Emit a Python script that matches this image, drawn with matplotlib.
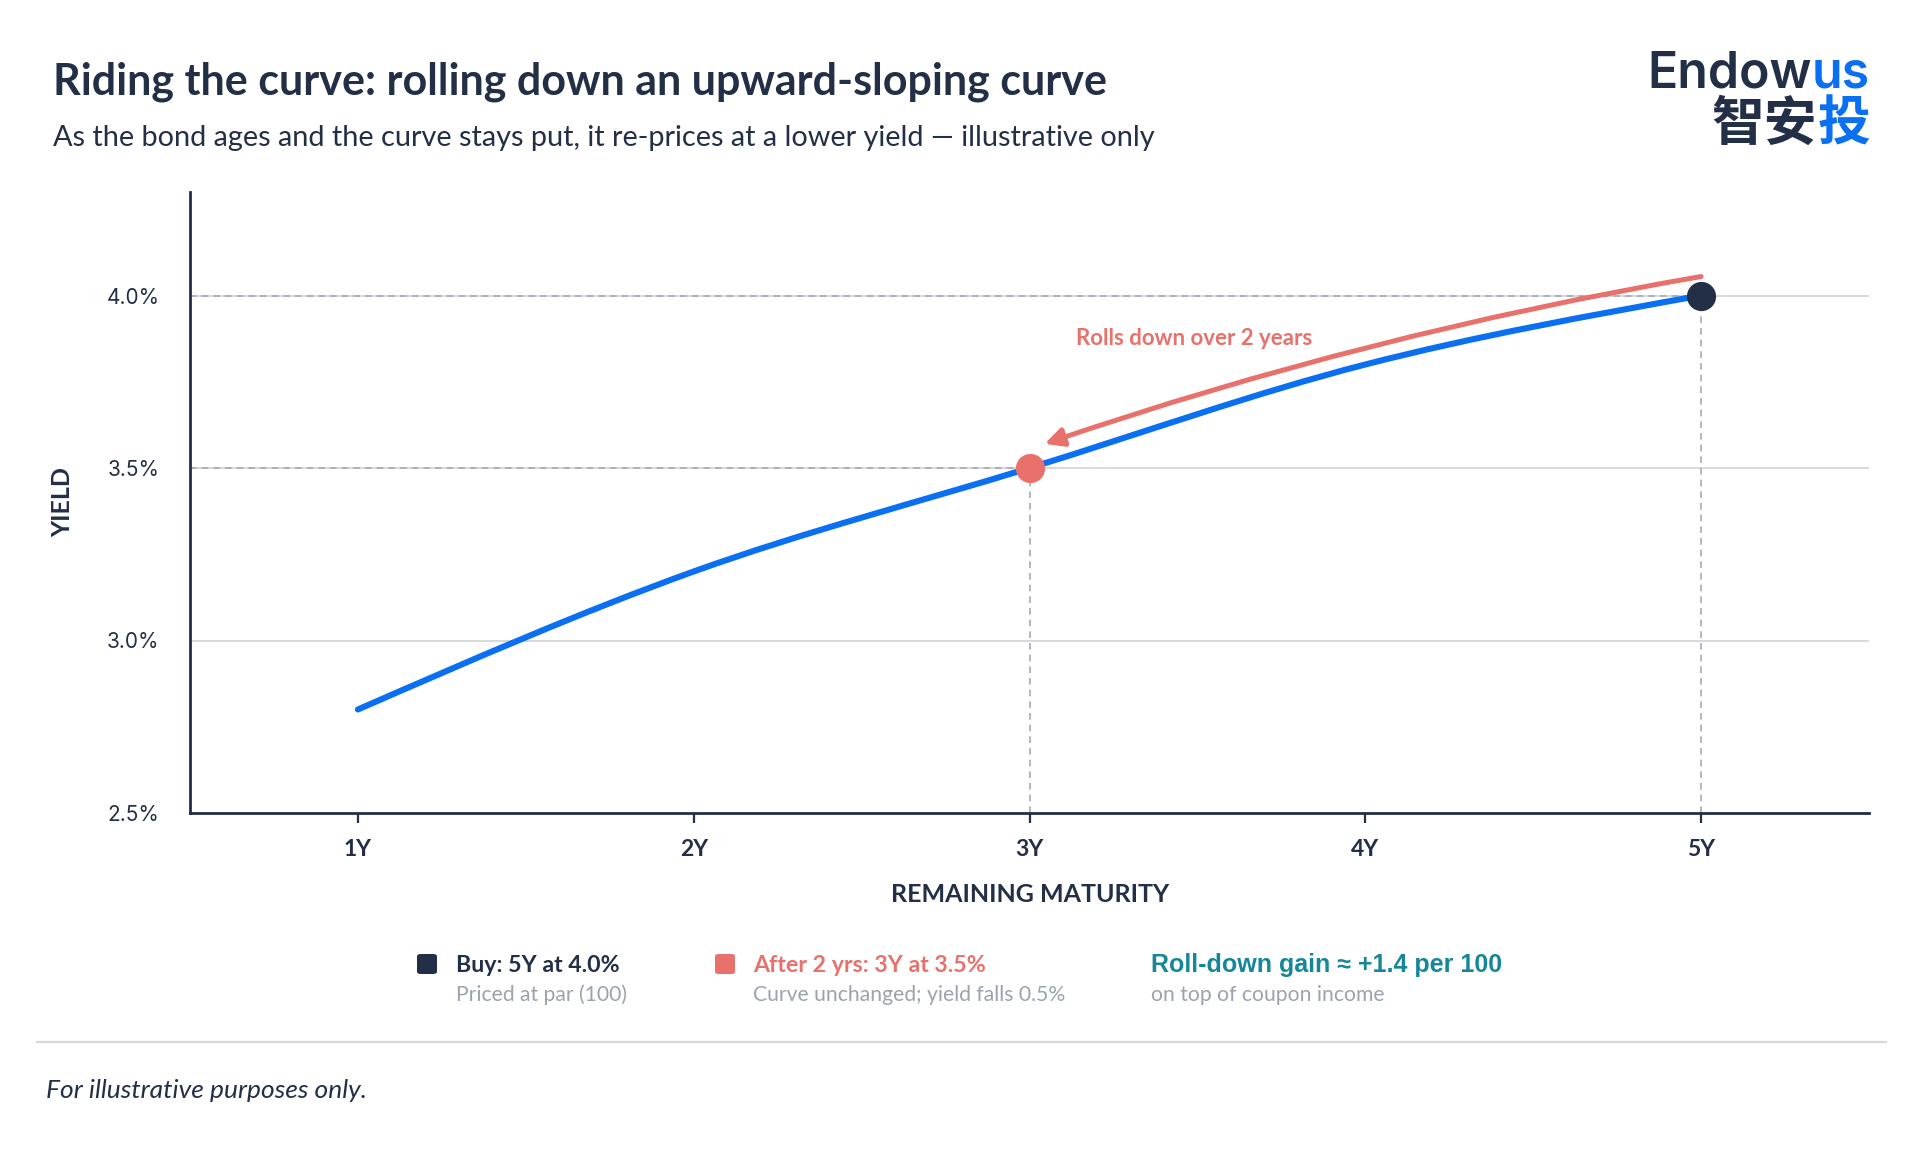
import numpy as np
import matplotlib.pyplot as plt
from matplotlib.path import Path
from matplotlib.patches import PathPatch, FancyBboxPatch
from matplotlib.lines import Line2D

# data
maturity = [1, 2, 3, 4, 5]
maturity_labels = ["1Y", "2Y", "3Y", "4Y", "5Y"]
yields = [2.8, 3.2, 3.5, 3.8, 4.0]
y_ticks = [2.5, 3.0, 3.5, 4.0]
buy_point = (5, 4.0)
after_point = (3, 3.5)

NAVY = "#222f47"
BLUE = "#0b6ff2"
PINK = "#e8716b"
TEAL = "#16879a"
GRAY = "#9ba3ae"
GUIDE = "#a3abb6"
GRID = "#d3d6da"

W, H = 1920, 1150
fig = plt.figure(figsize=(W / 100, H / 100), dpi=100)
fig.patch.set_facecolor("white")


def px(x, y):
    """pixel position (from top-left) -> figure fraction"""
    return x / W, 1 - y / H


ax = fig.add_axes([190 / W, 1 - 813 / H, (1869 - 190) / W, (813 - 192) / H])
ax.set_xlim(0.5, 5.5)
ax.set_ylim(2.5, 4.3)

# grid
for yv in y_ticks[1:]:
    ax.axhline(yv, color=GRID, lw=1.3, zorder=1)

# guides to the two points
for (xp, yp) in [buy_point, after_point]:
    ax.plot([0.5, xp], [yp, yp], color=GUIDE, lw=1.2, ls=(0, (4, 3)), zorder=2)
    ax.plot([xp, xp], [2.5, yp], color=GUIDE, lw=1.2, ls=(0, (4, 3)), zorder=2)

# smooth monotone curve through the points (bezier path)
x = np.array(maturity, dtype=float)
y = np.array(yields, dtype=float)
h = np.diff(x)
s = np.diff(y) / h
t = np.zeros_like(y)
for i in range(1, len(x) - 1):
    p = (s[i - 1] * h[i] + s[i] * h[i - 1]) / (h[i - 1] + h[i])
    t[i] = (np.sign(s[i - 1]) + np.sign(s[i])) * min(abs(s[i - 1]), abs(s[i]), 0.5 * abs(p))
t[0] = (3 * s[0] - t[1]) / 2
t[-1] = (3 * s[-1] - t[-2]) / 2
verts = [(x[0], y[0])]
codes = [Path.MOVETO]
for i in range(len(x) - 1):
    d = h[i] / 3
    verts += [(x[i] + d, y[i] + d * t[i]), (x[i + 1] - d, y[i + 1] - d * t[i + 1]), (x[i + 1], y[i + 1])]
    codes += [Path.CURVE4] * 3
ax.add_patch(PathPatch(Path(verts, codes), facecolor="none", edgecolor=BLUE,
                       lw=4.4, capstyle="round", zorder=3))

# roll-down arrow
ax.annotate("", xy=(3.045, 3.57), xytext=(5.0, 4.055),
            arrowprops=dict(arrowstyle="-|>,head_length=1.1,head_width=0.55",
                            color=PINK, lw=3.6, shrinkA=0, shrinkB=0,
                            connectionstyle="arc3,rad=0.04"),
            zorder=4)
ax.text(3.49, 3.875, "Rolls down over 2 years", color=PINK, fontsize=16,
        fontfamily="Lato", fontweight="bold", ha="center", va="center")

# points
ax.plot(*buy_point, "o", ms=21, color=NAVY, mec="none", zorder=5)
ax.plot(*after_point, "o", ms=21, color=PINK, mec="none", zorder=5)

# axes styling
for sp in ["top", "right"]:
    ax.spines[sp].set_visible(False)
for sp in ["left", "bottom"]:
    ax.spines[sp].set_color(NAVY)
    ax.spines[sp].set_linewidth(2)
ax.set_xticks(maturity)
ax.set_xticklabels(maturity_labels, fontfamily="Lato", fontweight="bold",
                   fontsize=16.5, color=NAVY)
ax.set_yticks(y_ticks)
ax.set_yticklabels([f"{v:.1f}%" for v in y_ticks], fontfamily="Inter",
                   fontsize=15, color=NAVY)
ax.tick_params(axis="x", length=7, width=1.6, color=NAVY, pad=12)
ax.tick_params(axis="y", length=0, pad=22)

fig.text(*px(63, 502), "YIELD", rotation=90, ha="center", va="center",
         fontfamily="Lato", fontweight="bold", fontsize=18, color=NAVY)
fig.text(*px(1030, 895), "REMAINING MATURITY", ha="center", va="center",
         fontfamily="Lato", fontweight="bold", fontsize=18, color=NAVY)

# title block
fig.text(*px(53, 82), "Riding the curve: rolling down an upward-sloping curve",
         ha="left", va="center", fontfamily="Lato", fontweight="bold",
         fontsize=31, color=NAVY)
fig.text(*px(53, 138),
         "As the bond ages and the curve stays put, it re-prices at a lower yield \u2014 illustrative only",
         ha="left", va="center", fontfamily="Lato", fontsize=20.8, color=NAVY)

# logo
us = fig.text(*px(1870, 88), "us", ha="right", va="baseline",
              fontfamily="Inter", fontweight="semibold", fontsize=36, color=BLUE)
ax.annotate("Endow", xy=(0, 0), xycoords=us, ha="right", va="bottom",
            fontfamily="Inter", fontweight="semibold", fontsize=36, color=NAVY,
            annotation_clip=False)
tou = fig.text(*px(1870, 124), "投", ha="right", va="center",
               fontfamily="Noto Sans CJK SC", fontweight="bold", fontsize=38, color=BLUE)
ax.annotate("智安", xy=(0, 0), xycoords=tou, ha="right", va="bottom",
            fontfamily="Noto Sans CJK SC", fontweight="bold", fontsize=38, color=NAVY,
            annotation_clip=False)


# legend row
def swatch(cx, cy, color):
    sz = 20
    fx, fy = px(cx - sz / 2, cy + sz / 2)
    fig.patches.append(FancyBboxPatch((fx, fy), sz / W, sz / H,
                                      boxstyle="round,pad=0,rounding_size=0.002",
                                      transform=fig.transFigure, facecolor=color,
                                      edgecolor="none", figure=fig))


swatch(427, 964, NAVY)
fig.text(*px(456, 966), "Buy: 5Y at 4.0%", ha="left", va="center",
         fontfamily="Lato", fontweight="bold", fontsize=16.7, color=NAVY)
fig.text(*px(456, 995), "Priced at par (100)", ha="left", va="center",
         fontfamily="Lato", fontsize=15.2, color=GRAY)
swatch(725, 964, PINK)
fig.text(*px(753, 966), "After 2 yrs: 3Y at 3.5%", ha="left", va="center",
         fontfamily="Lato", fontweight="bold", fontsize=16.7, color=PINK)
fig.text(*px(753, 995), "Curve unchanged; yield falls 0.5%", ha="left", va="center",
         fontfamily="Lato", fontsize=15.2, color=GRAY)
fig.text(*px(1151, 965), "Roll-down gain \u2248 +1.4 per 100", ha="left", va="center",
         fontfamily="Liberation Sans", fontweight="bold", fontsize=18, color=TEAL)
fig.text(*px(1151, 995), "on top of coupon income", ha="left", va="center",
         fontfamily="Lato", fontsize=15.2, color=GRAY)

# separator + footer
fig.add_artist(Line2D([37 / W, 1886 / W], [1 - 1042 / H] * 2, color="#d9d9d9", lw=1.6))
fig.text(*px(46, 1091), "For illustrative purposes only.", ha="left", va="center",
         fontfamily="Lato", fontstyle="italic", fontsize=19, color=NAVY)

fig.savefig("out.png", dpi=100)
